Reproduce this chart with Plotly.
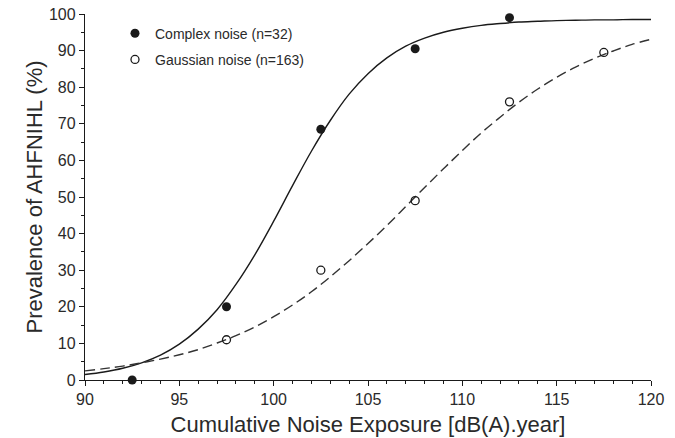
import plotly.graph_objects as go

# Observed prevalence at the midpoint of each exposure band
exposure_points = [92.5, 97.5, 102.5, 107.5, 112.5]
complex_prevalence = [0, 20, 68.5, 90.5, 99]

gaussian_exposure = [97.5, 102.5, 107.5, 112.5, 117.5]
gaussian_prevalence = [11, 30, 49, 76, 89.5]

# Fitted dose-response curves sampled every 1 dB(A).year
curve_x = list(range(90, 121))
complex_fit = [1.5, 2.2, 3.2, 4.7, 6.8, 9.8, 13.9, 19.2, 26.1, 34.2, 43.4,
               53.1, 62.5, 70.9, 78.1, 83.7, 88.0, 91.2, 93.4, 95.0, 96.1,
               96.9, 97.4, 97.8, 98.0, 98.2, 98.3, 98.4, 98.4, 98.5, 98.5]
gaussian_fit = [2.5, 3.1, 3.8, 4.7, 5.7, 6.9, 8.3, 10.1, 12.1, 14.5, 17.3,
                20.5, 24.1, 28.2, 32.6, 37.3, 42.2, 47.4, 52.6, 57.7, 62.7,
                67.5, 71.8, 75.9, 79.5, 82.7, 85.5, 87.9, 89.9, 91.7, 93.1]

x_ticks = [90, 95, 100, 105, 110, 115, 120]
y_ticks = [0, 10, 20, 30, 40, 50, 60, 70, 80, 90, 100]

ink = "#1a1a1a"
text_col = "#2a2a2a"
font_family = "Liberation Sans, Arial, sans-serif"

fig = go.Figure()

fig.add_trace(go.Scatter(
    x=curve_x, y=complex_fit, mode="lines", line_shape="spline",
    line=dict(color=ink, width=1.4), showlegend=False, hoverinfo="skip",
))
fig.add_trace(go.Scatter(
    x=curve_x, y=gaussian_fit, mode="lines", line_shape="spline",
    line=dict(color="#333333", width=1.4, dash="10px,5px"),
    showlegend=False, hoverinfo="skip",
))
fig.add_trace(go.Scatter(
    x=exposure_points, y=complex_prevalence, mode="markers",
    name="Complex noise (n=32)", legendgroup="a",
    marker=dict(symbol="circle", size=9, color=ink),
    cliponaxis=False,
))
fig.add_trace(go.Scatter(
    x=gaussian_exposure, y=gaussian_prevalence, mode="markers",
    name="Gaussian noise (n=163)", legendgroup="b",
    marker=dict(symbol="circle-open", size=8, color=ink, line=dict(width=1.3)),
    cliponaxis=False,
))

fig.update_layout(
    width=675, height=438,
    margin=dict(l=85, r=24, t=14, b=58, autoexpand=False),
    paper_bgcolor="white", plot_bgcolor="white",
    font=dict(family=font_family, color=text_col),
    showlegend=True,
    legend=dict(
        x=0.053, y=0.99, xanchor="left", yanchor="top",
        bgcolor="rgba(0,0,0,0)", font=dict(size=14, color=text_col),
        tracegroupgap=5, itemwidth=30,
    ),
    xaxis=dict(
        range=[90, 120], tickvals=x_ticks, ticks="outside", ticklen=5,
        tickwidth=1.2, tickcolor=ink, showline=True, linecolor=ink,
        linewidth=1.3, showgrid=False, zeroline=False,
        tickfont=dict(size=16, color=text_col),
        minor=dict(dtick=1, ticks="outside", ticklen=3, tickcolor=ink),
        title=dict(text="Cumulative Noise Exposure [dB(A).year]",
                   font=dict(size=22, color=text_col), standoff=9),
    ),
    yaxis=dict(
        range=[0, 100], tickvals=y_ticks, ticks="outside", ticklen=5,
        tickwidth=1.2, tickcolor=ink, showline=True, linecolor=ink,
        linewidth=1.3, showgrid=False, zeroline=False,
        tickfont=dict(size=16, color=text_col),
        minor=dict(dtick=5, ticks="outside", ticklen=3, tickcolor=ink),
        title=dict(text="Prevalence of AHFNIHL (%)",
                   font=dict(size=22, color=text_col), standoff=0),
    ),
)

fig.write_html("out.html")
